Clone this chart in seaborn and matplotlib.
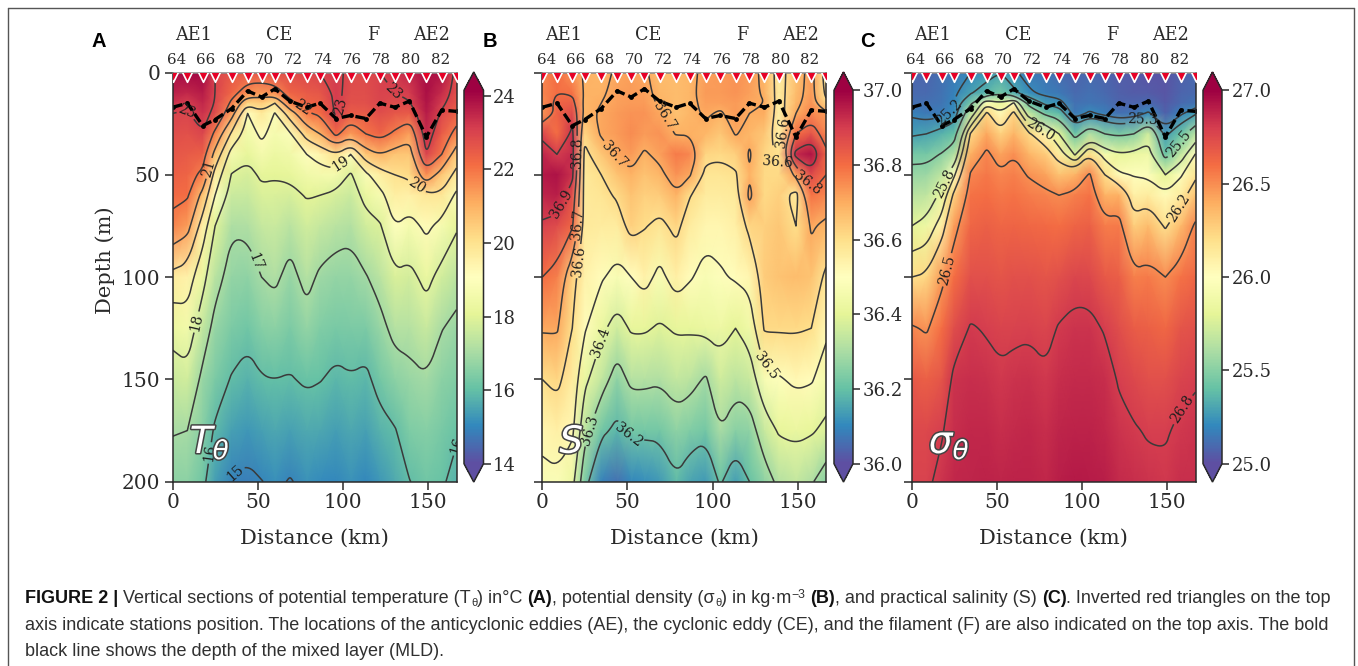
import numpy as np
import matplotlib
matplotlib.use("Agg")
import matplotlib.pyplot as plt
import matplotlib.patheffects as pe
from matplotlib.colors import Normalize
from matplotlib.cm import ScalarMappable
from matplotlib.lines import Line2D
from matplotlib.path import Path
import seaborn as sns

# ---- data ----
stations_km = [0, 8.6, 17.6, 24.9, 34.6, 44, 52.2, 60, 68.9, 78.7, 86.5, 95.9, 104.5, 113.5, 121.7, 130.5, 139, 149, 158, 166.7]
depth_levels = [0, 10, 15, 20, 30, 40, 50, 60, 75, 100, 125, 150, 175, 200]
mld_depth = [17, 15, 26, 23, 17.6, 9, 12, 8, 14, 17, 15, 22.5, 21, 22.5, 15, 17, 14, 31.5, 18.4, 19]

# one row per station, one column per depth level
temperature = [
    [23.9, 23.6, 23.3, 23.0, 22.8, 22.6, 22.4, 22.2, 21.75, 19.7, 18.3, 17.6, 17.05, 16.6],
    [24.0, 23.5, 23.1, 22.95, 22.7, 22.5, 22.3, 22.1, 21.35, 19.5, 18.55, 17.7, 17.0, 16.6],
    [24.0, 23.7, 23.5, 23.3, 22.95, 22.4, 21.8, 20.7, 19.55, 18.3, 17.45, 16.8, 16.5, 16.2],
    [23.0, 23.0, 22.95, 22.8, 21.8, 20.7, 19.65, 19.0, 18.0, 17.3, 16.75, 16.35, 15.9, 15.4],
    [22.6, 22.25, 21.85, 21.4, 19.85, 18.6, 17.95, 17.6, 17.1, 16.7, 16.35, 15.95, 15.45, 14.93],
    [22.5, 21.6, 20.3, 19.0, 18.55, 18.15, 17.8, 17.55, 17.15, 16.65, 16.2, 15.75, 15.3, 14.85],
    [22.6, 21.4, 20.5, 19.8, 19.2, 18.6, 18.1, 17.85, 17.5, 17.0, 16.5, 15.95, 15.45, 14.98],
    [22.7, 21.6, 20.0, 18.95, 18.65, 18.35, 18.05, 17.85, 17.6, 17.15, 16.6, 16.0, 15.55, 15.15],
    [22.8, 22.3, 21.8, 20.5, 18.9, 18.5, 18.15, 17.8, 17.3, 16.75, 16.35, 15.95, 15.45, 14.95],
    [22.9, 22.5, 22.3, 21.9, 20.4, 19.0, 18.5, 18.05, 17.7, 17.25, 16.7, 16.1, 15.6, 15.2],
    [23.0, 22.6, 22.4, 22.15, 21.0, 19.4, 18.6, 18.0, 17.5, 16.87, 16.45, 16.03, 15.55, 15.1],
    [23.15, 23.15, 23.15, 23.1, 22.2, 20.0, 18.6, 17.8, 17.3, 16.7, 16.3, 15.85, 15.4, 15.03],
    [22.85, 22.8, 22.7, 22.45, 21.4, 19.0, 17.9, 17.6, 17.2, 16.7, 16.35, 15.95, 15.55, 15.2],
    [22.85, 22.8, 22.75, 22.5, 22.0, 20.6, 18.8, 18.25, 17.7, 16.95, 16.35, 15.85, 15.45, 15.03],
    [23.0, 23.0, 22.95, 22.8, 22.3, 21.0, 19.6, 18.7, 17.9, 17.3, 16.75, 16.25, 15.75, 15.3],
    [23.2, 23.0, 22.8, 22.6, 21.85, 20.65, 20.0, 19.6, 19.0, 17.85, 17.25, 16.6, 15.95, 15.6],
    [23.5, 23.15, 22.95, 22.5, 21.3, 20.6, 20.15, 19.55, 18.65, 17.75, 17.25, 16.8, 16.4, 15.98],
    [23.9, 23.9, 23.8, 23.7, 23.4, 23.0, 21.6, 19.85, 19.2, 18.25, 17.55, 16.95, 16.5, 16.2],
    [23.8, 23.4, 23.15, 22.9, 22.45, 22.0, 20.6, 19.85, 18.7, 17.7, 17.03, 16.6, 16.3, 16.1],
    [22.8, 22.7, 22.6, 22.4, 21.75, 20.5, 19.75, 18.8, 18.1, 17.35, 16.8, 16.45, 16.1, 15.75],
]
salinity = [
    [36.76, 36.76, 36.75, 36.74, 36.88, 36.94, 36.96, 36.94, 36.89, 36.8, 36.71, 36.6, 36.53, 36.47],
    [36.8, 36.8, 36.82, 36.82, 36.8, 36.9, 36.97, 36.95, 36.87, 36.77, 36.71, 36.62, 36.55, 36.48],
    [36.74, 36.79, 36.83, 36.87, 36.92, 36.93, 36.92, 36.86, 36.81, 36.63, 36.6, 36.56, 36.52, 36.43],
    [36.69, 36.69, 36.68, 36.68, 36.62, 36.58, 36.57, 36.57, 36.57, 36.54, 36.51, 36.42, 36.33, 36.235],
    [36.68, 36.69, 36.7, 36.71, 36.71, 36.65, 36.6, 36.58, 36.56, 36.51, 36.42, 36.34, 36.22, 36.09],
    [36.71, 36.72, 36.72, 36.73, 36.73, 36.71, 36.66, 36.61, 36.56, 36.47, 36.36, 36.26, 36.18, 36.06],
    [36.72, 36.73, 36.73, 36.74, 36.75, 36.73, 36.69, 36.66, 36.63, 36.5, 36.41, 36.32, 36.22, 36.1],
    [36.71, 36.72, 36.73, 36.74, 36.73, 36.69, 36.66, 36.63, 36.605, 36.54, 36.41, 36.32, 36.22, 36.11],
    [36.67, 36.68, 36.69, 36.71, 36.74, 36.72, 36.68, 36.64, 36.58, 36.47, 36.39, 36.31, 36.22, 36.13],
    [36.67, 36.67, 36.67, 36.66, 36.695, 36.78, 36.74, 36.69, 36.62, 36.55, 36.41, 36.34, 36.26, 36.19],
    [36.68, 36.68, 36.68, 36.68, 36.695, 36.76, 36.71, 36.605, 36.56, 36.51, 36.41, 36.33, 36.24, 36.15],
    [36.72, 36.73, 36.72, 36.71, 36.68, 36.62, 36.58, 36.56, 36.53, 36.47, 36.42, 36.29, 36.22, 36.13],
    [36.73, 36.73, 36.72, 36.69, 36.65, 36.61, 36.58, 36.56, 36.53, 36.49, 36.43, 36.36, 36.3, 36.21],
    [36.74, 36.74, 36.73, 36.73, 36.705, 36.63, 36.59, 36.57, 36.55, 36.51, 36.4, 36.33, 36.25, 36.14],
    [36.73, 36.72, 36.71, 36.7, 36.68, 36.71, 36.69, 36.72, 36.62, 36.53, 36.44, 36.35, 36.26, 36.2],
    [36.68, 36.69, 36.7, 36.7, 36.65, 36.62, 36.61, 36.61, 36.63, 36.64, 36.61, 36.47, 36.35, 36.26],
    [36.56, 36.56, 36.56, 36.55, 36.55, 36.59, 36.61, 36.63, 36.65, 36.66, 36.61, 36.49, 36.41, 36.32],
    [36.66, 36.67, 36.68, 36.7, 36.8, 36.93, 36.72, 36.57, 36.6, 36.67, 36.61, 36.52, 36.42, 36.34],
    [36.73, 36.73, 36.74, 36.76, 36.85, 36.97, 36.87, 36.79, 36.71, 36.66, 36.6, 36.51, 36.41, 36.31],
    [36.56, 36.58, 36.62, 36.72, 36.76, 36.82, 36.8, 36.76, 36.68, 36.58, 36.52, 36.45, 36.38, 36.25],
]
density = [
    [25.08, 25.1, 25.12, 25.18, 25.28, 25.45, 25.55, 25.65, 25.8, 26.2, 26.52, 26.68, 26.75, 26.78],
    [25.08, 25.1, 25.12, 25.15, 25.3, 25.45, 25.56, 25.67, 25.86, 26.23, 26.48, 26.65, 26.75, 26.78],
    [25.12, 25.13, 25.14, 25.17, 25.35, 25.51, 25.67, 25.85, 26.1, 26.46, 26.6, 26.7, 26.79, 26.83],
    [25.15, 25.18, 25.2, 25.22, 25.4, 25.63, 25.97, 26.25, 26.45, 26.6, 26.73, 26.83, 26.85, 26.87],
    [25.2, 25.29, 25.46, 25.66, 26.22, 26.39, 26.52, 26.58, 26.63, 26.72, 26.81, 26.85, 26.87, 26.88],
    [25.25, 25.36, 25.95, 26.23, 26.42, 26.53, 26.57, 26.6, 26.65, 26.72, 26.79, 26.84, 26.87, 26.89],
    [25.3, 25.45, 25.83, 26.03, 26.25, 26.43, 26.52, 26.57, 26.63, 26.7, 26.77, 26.82, 26.85, 26.88],
    [25.22, 25.33, 26.02, 26.24, 26.37, 26.495, 26.54, 26.58, 26.64, 26.72, 26.78, 26.83, 26.86, 26.89],
    [25.15, 25.22, 25.42, 25.69, 26.22, 26.37, 26.49, 26.55, 26.62, 26.72, 26.785, 26.84, 26.87, 26.89],
    [25.14, 25.17, 25.27, 25.45, 26.07, 26.28, 26.43, 26.53, 26.61, 26.7, 26.76, 26.82, 26.85, 26.87],
    [25.1, 25.15, 25.24, 25.38, 25.8, 26.12, 26.32, 26.5, 26.6, 26.72, 26.81, 26.85, 26.88, 26.9],
    [25.08, 25.1, 25.12, 25.15, 25.42, 25.78, 26.37, 26.54, 26.64, 26.76, 26.83, 26.86, 26.89, 26.92],
    [25.1, 25.12, 25.14, 25.22, 25.63, 26.2, 26.52, 26.58, 26.65, 26.75, 26.83, 26.86, 26.89, 26.91],
    [25.08, 25.1, 25.12, 25.17, 25.5, 25.92, 26.2, 26.38, 26.55, 26.68, 26.79, 26.85, 26.87, 26.9],
    [25.05, 25.07, 25.08, 25.12, 25.46, 25.82, 26.03, 26.39, 26.56, 26.66, 26.73, 26.79, 26.83, 26.86],
    [25.05, 25.05, 25.08, 25.14, 25.5, 25.85, 25.99, 26.1, 26.27, 26.54, 26.67, 26.75, 26.81, 26.85],
    [25.02, 25.05, 25.1, 25.22, 25.72, 25.88, 25.97, 26.12, 26.34, 26.56, 26.65, 26.72, 26.79, 26.83],
    [25.03, 25.03, 25.04, 25.07, 25.27, 25.42, 25.8, 26.03, 26.18, 26.5, 26.62, 26.72, 26.79, 26.82],
    [25.07, 25.08, 25.1, 25.18, 25.42, 25.68, 25.98, 26.12, 26.35, 26.58, 26.7, 26.77, 26.82, 26.85],
    [25.1, 25.1, 25.13, 25.28, 25.65, 26.01, 26.16, 26.32, 26.53, 26.63, 26.72, 26.79, 26.83, 26.85],
]

temp_levels = [15, 16, 17, 18, 19, 20, 21, 22, 23]
sal_levels = [36.2, 36.3, 36.4, 36.5, 36.6, 36.7, 36.8, 36.9]
dens_levels = [25.2, 25.3, 25.5, 25.8, 26.0, 26.2, 26.5, 26.8]
temp_ticks = [14, 16, 18, 20, 22, 24]
sal_ticks = [36.0, 36.2, 36.4, 36.6, 36.8, 37.0]
dens_ticks = [25.0, 25.5, 26.0, 26.5, 27.0]
distance_ticks = [0, 50, 100, 150]
depth_ticks = [0, 50, 100, 150, 200]
station_labels = ["64", "66", "68", "70", "72", "74", "76", "78", "80", "82"]
station_label_km = [2.3, 19.5, 36.7, 53.9, 71.1, 88.3, 105.5, 122.7, 139.9, 157.1]
feature_labels = ["AE1", "CE", "F", "AE2"]
feature_km = [12.5, 62.4, 117.6, 151.9]

# contour labels: level, distance, depth
temp_labels = [(23, 9, 17.6), (23, 100, 17), (23, 131.5, 8), (22, 75.7, 17), (21, 23, 47), (20, 145, 54), (19, 99, 44.5),
               (18, 13, 122.7), (17, 51, 92), (16, 22, 187), (16, 161, 187), (15, 35.6, 194.4)]
sal_labels = [(36.9, 12.3, 64), (36.8, 21.5, 40), (36.7, 21, 75), (36.6, 19, 93), (36.7, 45.6, 38), (36.7, 71, 21.7),
              (36.6, 130, 49), (36.6, 141.5, 30), (36.8, 155, 54), (36.4, 35.8, 132.5), (36.3, 27, 175),
              (36.2, 52.4, 175.7), (36.5, 134.6, 142)]
dens_labels = [(25.2, 23.5, 20), (25.3, 136, 24), (25.5, 156.6, 35), (25.8, 16.6, 53.5), (26.0, 76.3, 26.6),
               (26.2, 156.6, 66.5), (26.5, 19.6, 96.6), (26.8, 157.3, 164)]

caption_line1 = [
    ("FIGURE 2 | ", "bold", 1, 0),
    ("Vertical sections of potential temperature (T", "normal", 1, 0),
    ("\u03b8", "normal", 0.62, -3),
    (") in\u00b0C ", "normal", 1, 0),
    ("(A)", "bold", 1, 0),
    (", potential density (\u03c3", "normal", 1, 0),
    ("\u03b8", "normal", 0.62, -3),
    (") in kg\u00b7m", "normal", 1, 0),
    ("\u22123", "normal", 0.68, 5),
    (" ", "normal", 1, 0),
    ("(B)", "bold", 1, 0),
    (", and practical salinity (S) ", "normal", 1, 0),
    ("(C)", "bold", 1, 0),
    (". Inverted red triangles on the top", "normal", 1, 0),
]
caption_line2 = "axis indicate stations position. The locations of the anticyclonic eddies (AE), the cyclonic eddy (CE), and the filament (F) are also indicated on the top axis. The bold"
caption_line3 = "black line shows the depth of the mixed layer (MLD)."

# ---- style ----
sns.set_theme(style="ticks", rc={"axes.linewidth": 1.1, "axes.edgecolor": "#2a2a2a", "xtick.color": "#2a2a2a",
                                 "ytick.color": "#2a2a2a", "text.color": "#2a2a2a", "axes.labelcolor": "#2a2a2a"})
plt.rcParams["font.family"] = ["DejaVu Serif"]
cmap = sns.color_palette("Spectral_r", as_cmap=True)

W, H = 1358, 666
fig = plt.figure(figsize=(W / 100, H / 100), dpi=100)


def px_axes(left, top, right, bottom):
    return fig.add_axes([left / W, 1 - bottom / H, (right - left) / W, (bottom - top) / H])


def round_corners(verts, closed, passes=3):
    """Corner-cutting of a drawn contour polyline, so it reads as a smooth curve."""
    v = np.asarray(verts, dtype=float)
    if len(v) < 3:
        return v
    for _ in range(passes):
        a = v if closed else v[:-1]
        b = np.roll(v, -1, axis=0) if closed else v[1:]
        q = 0.75 * a + 0.25 * b
        r = 0.25 * a + 0.75 * b
        mid = np.empty((2 * len(a), 2))
        mid[0::2] = q
        mid[1::2] = r
        v = mid if closed else np.vstack([v[:1], mid, v[-1:]])
    return v


def soften_contours(cs):
    new_paths = []
    for path in cs.get_paths():
        if path.vertices is None or len(path.vertices) == 0:
            new_paths.append(path)
            continue
        codes = path.codes if path.codes is not None else np.array([Path.MOVETO] + [Path.LINETO] * (len(path.vertices) - 1))
        starts = list(np.nonzero(codes == Path.MOVETO)[0]) + [len(codes)]
        all_v, all_c = [], []
        for s, e in zip(starts[:-1], starts[1:]):
            seg = path.vertices[s:e]
            closed = codes[e - 1] == Path.CLOSEPOLY
            if closed:
                seg = seg[:-1]
            sm = round_corners(seg, closed)
            c = [Path.LINETO] * len(sm)
            c[0] = Path.MOVETO
            if closed:
                sm = np.vstack([sm, sm[:1]])
                c.append(Path.CLOSEPOLY)
            all_v.append(sm)
            all_c.extend(c)
        new_paths.append(Path(np.vstack(all_v), all_c))
    cs.set_paths(new_paths)


def label_on_level(ax, cs, levels, level, xk, zk, fmt):
    """Put a contour label on the named level, at the spot of that level nearest the given place."""
    verts = cs.get_paths()[levels.index(level)].vertices
    if len(verts) == 0:
        return
    d = ax.transData.transform(verts) - ax.transData.transform((xk, zk))
    nearest = verts[np.argmin((d ** 2).sum(axis=1))]
    ax.clabel(cs, fmt=fmt, fontsize=10, inline=True, inline_spacing=2, manual=[tuple(nearest)], colors="#1e1e1e")


TOP, BOTTOM = 72.5, 481.7
panels = [
    dict(left=172.7, letter="A", letter_x=99, values=temperature, lim=(14, 24.15), levels=temp_levels, ticks=temp_ticks,
         fmt="%g", labels=temp_labels, cbar=(464, 483.5), tick_fmt="%g", name=r"$T_\theta$", name_x=0.06),
    dict(left=542.3, letter="B", letter_x=490, values=salinity, lim=(36.0, 37.0), levels=sal_levels, ticks=sal_ticks,
         fmt="%.1f", labels=sal_labels, cbar=(834, 853), tick_fmt="%.1f", name=r"$S$", name_x=0.06),
    dict(left=911.7, letter="C", letter_x=867, values=density, lim=(25.0, 27.0), levels=dens_levels, ticks=dens_ticks,
         fmt="%.1f", labels=dens_labels, cbar=(1203, 1222), tick_fmt="%.1f", name=r"$\sigma_\theta$", name_x=0.06),
]

for i, p in enumerate(panels):
    ax = px_axes(p["left"], TOP, p["left"] + 283.8, BOTTOM)
    field = np.array(p["values"]).T
    norm = Normalize(*p["lim"])
    ax.pcolormesh(stations_km, depth_levels, field, shading="gouraud", cmap=cmap, norm=norm, rasterized=True)
    cs = ax.contour(stations_km, depth_levels, field, levels=p["levels"], colors="#3a3a3a", linewidths=1.1)
    ax.set_xlim(0, 166.7)
    ax.set_ylim(200, 0)
    soften_contours(cs)
    for level, xk, zk in p["labels"]:
        label_on_level(ax, cs, p["levels"], level, xk, zk, p["fmt"])
    sns.lineplot(x=stations_km, y=mld_depth, ax=ax, color="black", lw=2.4, linestyle=(0, (3, 1.2)), marker="o",
                 markersize=3.5, markeredgewidth=0, estimator=None, errorbar=None, legend=False)
    sns.scatterplot(x=stations_km, y=[1.5] * len(stations_km), ax=ax, marker="v", s=70, color="#e60026",
                    edgecolor="white", linewidth=1.2, legend=False, zorder=5)
    ax.set_xticks(distance_ticks)
    ax.set_yticks(depth_ticks)
    ax.tick_params(axis="both", labelsize=14.5, length=6, width=1.1, pad=3)
    ax.tick_params(axis="x", pad=2)
    ax.set_xlabel("Distance (km)", fontsize=15.1, labelpad=12)
    if i == 0:
        ax.set_ylabel("Depth (m)", fontsize=15.1, labelpad=5, y=0.542)
    else:
        ax.set_ylabel("")
        ax.set_yticklabels([])
    ax.spines["top"].set_color("#8a8a8a")
    top = ax.secondary_xaxis("top")
    top.set_xticks(station_label_km, station_labels)
    top.tick_params(length=0, labelsize=10.8, pad=4)
    top.spines["top"].set_visible(False)
    for name, km in zip(feature_labels, feature_km):
        ax.text(km, 1.092, name, transform=ax.get_xaxis_transform(), ha="center", va="center", fontsize=12.7)
    ax.text(p["name_x"], 0.07, p["name"], transform=ax.transAxes, fontsize=27, color="white", family="DejaVu Sans",
            ha="left", va="baseline", zorder=6,
            path_effects=[pe.Stroke(linewidth=2.2, foreground="#444444"), pe.Normal()])
    fig.text(p["letter_x"] / W, 1 - 41.5 / H, p["letter"], family="Liberation Sans", fontweight="bold", fontsize=14.5,
             color="black", ha="center", va="center")

    cax = px_axes(p["cbar"][0], 72, p["cbar"][1], 482)
    cb = fig.colorbar(ScalarMappable(norm=norm, cmap=cmap), cax=cax, extend="both", extendfrac=0.049, ticks=p["ticks"],
                      format=p["tick_fmt"])
    cb.ax.tick_params(labelsize=13, length=5, width=1.1, pad=2)
    cb.outline.set_linewidth(1.1)

# ---- frame and caption ----
for xs, ys in [((8, 8), (0, 658)), ((8, 1354), (658, 658)), ((1354, 1354), (0, 658))]:
    fig.add_artist(Line2D([x / W for x in xs], [y / H for y in ys], color="#555555", lw=1.0))

CAP = 13.0
renderer = fig.canvas.get_renderer()
x = 25.0
for text, weight, scale, dy in caption_line1:
    t = fig.text(x / W, 1 - (603 - dy) / H, text, family="Liberation Sans", fontweight=weight, fontsize=CAP * scale,
                 color="#303030" if weight == "normal" else "#111111", ha="left", va="baseline")
    x += t.get_window_extent(renderer).width
for text, y in [(caption_line2, 630), (caption_line3, 656)]:
    fig.text(25 / W, 1 - y / H, text, family="Liberation Sans", fontsize=CAP, color="#303030", ha="left", va="baseline")

fig.savefig("out.png", dpi=100)
